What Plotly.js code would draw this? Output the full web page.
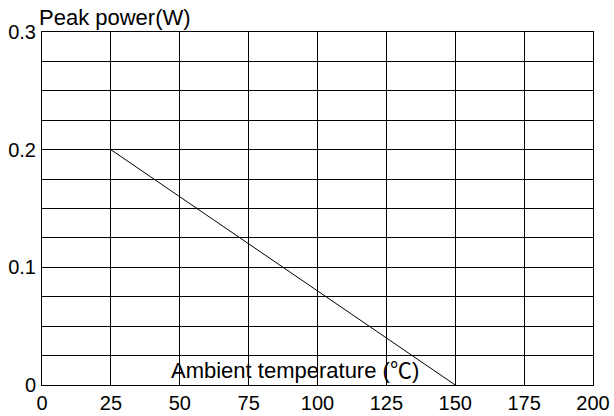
<!DOCTYPE html>
<html>
<head>
<meta charset="utf-8">
<script src="https://cdn.plot.ly/plotly-3.0.1.min.js"></script>
<style>html,body{margin:0;padding:0;background:#fff}#chart{width:614px;height:416px}</style>
</head>
<body>
<div id="chart"></div>
<script>
// Data
const temperature = [25, 150];
const peakPower = [0.2, 0];
const xTickVals = [0, 25, 50, 75, 100, 125, 150, 175, 200];
const yTickVals = [0, 0.025, 0.05, 0.075, 0.1, 0.125, 0.15, 0.175, 0.2, 0.225, 0.25, 0.275, 0.3];
const yTickText = ['0', '', '', '', '0.1', '', '', '', '0.2', '', '', '', '0.3'];
const yTitle = 'Peak power(W)';
const xTitle = 'Ambient temperature (<span style="font-family:\'Noto Sans CJK SC\'">℃</span>)';

const font = {family: 'Liberation Sans, Arial, sans-serif', size: 20, color: '#000'};
const titleFont = {family: 'Liberation Sans, Arial, sans-serif', size: 22, color: '#000'};

Plotly.newPlot('chart', [{
  x: temperature, y: peakPower, type: 'scatter', mode: 'lines',
  line: {color: '#000', width: 1}, hoverinfo: 'none'
}], {
  width: 614, height: 416,
  margin: {l: 42, r: 21, t: 32, b: 31, pad: 0},
  paper_bgcolor: '#fff', plot_bgcolor: '#fff',
  showlegend: false,
  font: font,
  xaxis: {
    range: [0, 200], tickvals: xTickVals, ticks: '', showgrid: true,
    gridcolor: '#000', gridwidth: 1, showline: true, mirror: true,
    linecolor: '#000', linewidth: 1, zeroline: false, tickfont: font, ticklabelstandoff: 0
  },
  yaxis: {
    range: [0, 0.3], tickvals: yTickVals, ticktext: yTickText, ticks: '', showgrid: true,
    gridcolor: '#000', gridwidth: 1, showline: true, mirror: true,
    linecolor: '#000', linewidth: 1, zeroline: false, tickfont: font, ticklabelstandoff: 1
  },
  annotations: [
    {text: yTitle, xref: 'paper', yref: 'paper', x: 0, y: 1, xanchor: 'left', yanchor: 'bottom',
     xshift: -5, yshift: 0, showarrow: false, font: titleFont},
    {text: xTitle, xref: 'x', yref: 'paper', x: 92, y: 0, xanchor: 'center', yanchor: 'bottom',
     yshift: -1, showarrow: false, font: titleFont}
  ]
}, {staticPlot: true});
</script>
</body>
</html>
